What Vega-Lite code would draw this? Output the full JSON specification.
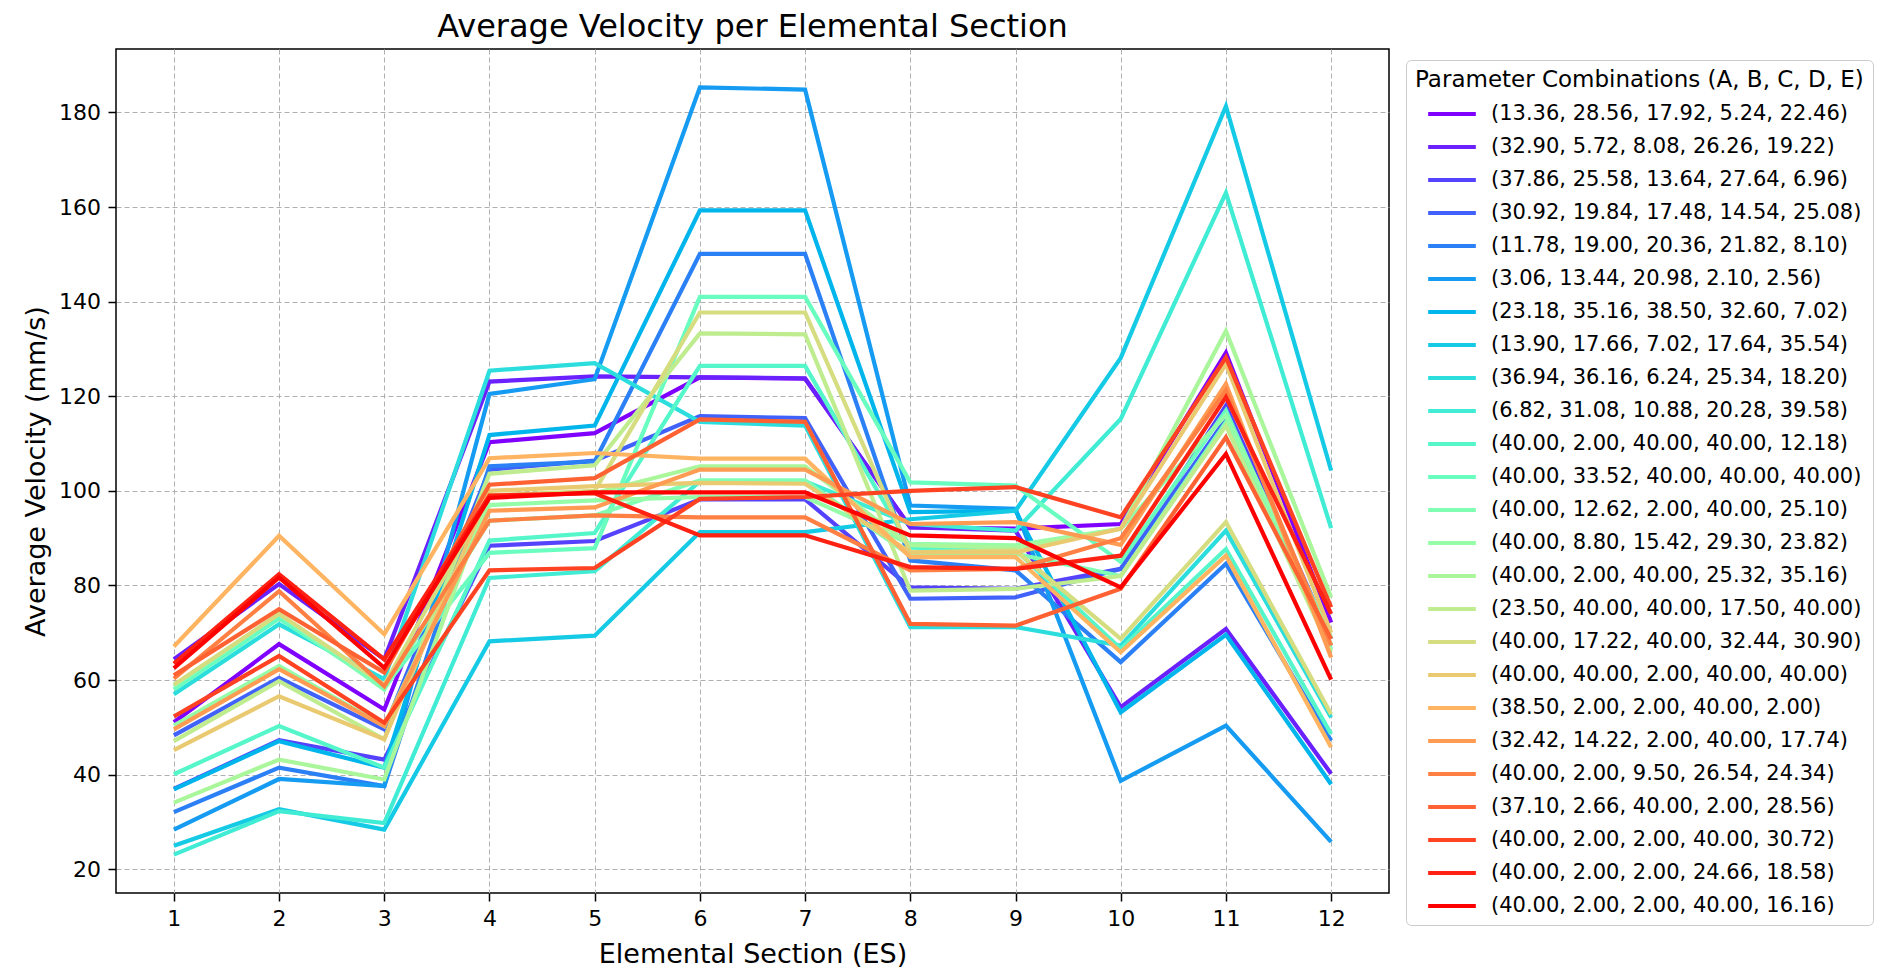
{
"$schema": "https://vega.github.io/schema/vega-lite/v6.json",
"width": 1273, "height": 844,
"autosize": {"type": "none"},
"padding": {"left": 116, "top": 49, "right": 494, "bottom": 76},
"background": "white",
"config": {
  "font": "DejaVu Sans",
  "view": {"stroke": "black", "strokeWidth": 1.5},
  "axis": {"domain": false, "tickColor": "black", "tickSize": 8, "tickWidth": 1.5, "labelFontSize": 22, "labelColor": "black", "labelPadding": 7.5, "titleFontSize": 27, "titleFontWeight": "normal", "titleColor": "black", "gridColor": "#b0b0b0", "gridDash": [5, 3], "gridWidth": 1}
},
"title": {"text": "Average Velocity per Elemental Section", "fontSize": 32, "fontWeight": "normal", "color": "black", "anchor": "middle", "baseline": "top", "offset": 5.5},
"datasets": {
"combos": [
{"k":0,"c":"(13.36, 28.56, 17.92, 5.24, 22.46)"},
{"k":1,"c":"(32.90, 5.72, 8.08, 26.26, 19.22)"},
{"k":2,"c":"(37.86, 25.58, 13.64, 27.64, 6.96)"},
{"k":3,"c":"(30.92, 19.84, 17.48, 14.54, 25.08)"},
{"k":4,"c":"(11.78, 19.00, 20.36, 21.82, 8.10)"},
{"k":5,"c":"(3.06, 13.44, 20.98, 2.10, 2.56)"},
{"k":6,"c":"(23.18, 35.16, 38.50, 32.60, 7.02)"},
{"k":7,"c":"(13.90, 17.66, 7.02, 17.64, 35.54)"},
{"k":8,"c":"(36.94, 36.16, 6.24, 25.34, 18.20)"},
{"k":9,"c":"(6.82, 31.08, 10.88, 20.28, 39.58)"},
{"k":10,"c":"(40.00, 2.00, 40.00, 40.00, 12.18)"},
{"k":11,"c":"(40.00, 33.52, 40.00, 40.00, 40.00)"},
{"k":12,"c":"(40.00, 12.62, 2.00, 40.00, 25.10)"},
{"k":13,"c":"(40.00, 8.80, 15.42, 29.30, 23.82)"},
{"k":14,"c":"(40.00, 2.00, 40.00, 25.32, 35.16)"},
{"k":15,"c":"(23.50, 40.00, 40.00, 17.50, 40.00)"},
{"k":16,"c":"(40.00, 17.22, 40.00, 32.44, 30.90)"},
{"k":17,"c":"(40.00, 40.00, 2.00, 40.00, 40.00)"},
{"k":18,"c":"(38.50, 2.00, 2.00, 40.00, 2.00)"},
{"k":19,"c":"(32.42, 14.22, 2.00, 40.00, 17.74)"},
{"k":20,"c":"(40.00, 2.00, 9.50, 26.54, 24.34)"},
{"k":21,"c":"(37.10, 2.66, 40.00, 2.00, 28.56)"},
{"k":22,"c":"(40.00, 2.00, 2.00, 40.00, 30.72)"},
{"k":23,"c":"(40.00, 2.00, 2.00, 24.66, 18.58)"},
{"k":24,"c":"(40.00, 2.00, 2.00, 40.00, 16.16)"}
],
"vel": [
{"k":0,"x":1,"y":51.1},{"k":0,"x":2,"y":67.6},{"k":0,"x":3,"y":53.8},{"k":0,"x":4,"y":110.3},{"k":0,"x":5,"y":112.2},{"k":0,"x":6,"y":124},{"k":0,"x":7,"y":123.7},{"k":0,"x":8,"y":92.3},{"k":0,"x":9,"y":92},{"k":0,"x":10,"y":93},{"k":0,"x":11,"y":129.2},{"k":0,"x":12,"y":72.2},
{"k":1,"x":1,"y":64.4},{"k":1,"x":2,"y":80.3},{"k":1,"x":3,"y":64.4},{"k":1,"x":4,"y":123.1},{"k":1,"x":5,"y":124.2},{"k":1,"x":6,"y":124},{"k":1,"x":7,"y":123.8},{"k":1,"x":8,"y":92.3},{"k":1,"x":9,"y":91.6},{"k":1,"x":10,"y":54.3},{"k":1,"x":11,"y":70.8},{"k":1,"x":12,"y":40.2},
{"k":2,"x":1,"y":37},{"k":2,"x":2,"y":47.3},{"k":2,"x":3,"y":43.2},{"k":2,"x":4,"y":88.4},{"k":2,"x":5,"y":89.4},{"k":2,"x":6,"y":98.2},{"k":2,"x":7,"y":98.2},{"k":2,"x":8,"y":79.6},{"k":2,"x":9,"y":79.3},{"k":2,"x":10,"y":83.5},{"k":2,"x":11,"y":118},{"k":2,"x":12,"y":68.7},
{"k":3,"x":1,"y":48.3},{"k":3,"x":2,"y":60.5},{"k":3,"x":3,"y":49.6},{"k":3,"x":4,"y":104.5},{"k":3,"x":5,"y":106.4},{"k":3,"x":6,"y":115.8},{"k":3,"x":7,"y":115.4},{"k":3,"x":8,"y":77.2},{"k":3,"x":9,"y":77.5},{"k":3,"x":10,"y":83.5},{"k":3,"x":11,"y":115.2},{"k":3,"x":12,"y":67.3},
{"k":4,"x":1,"y":32.1},{"k":4,"x":2,"y":41.5},{"k":4,"x":3,"y":37.6},{"k":4,"x":4,"y":105.2},{"k":4,"x":5,"y":106.2},{"k":4,"x":6,"y":150.1},{"k":4,"x":7,"y":150.1},{"k":4,"x":8,"y":85.3},{"k":4,"x":9,"y":83.2},{"k":4,"x":10,"y":63.8},{"k":4,"x":11,"y":84.6},{"k":4,"x":12,"y":47.2},
{"k":5,"x":1,"y":28.4},{"k":5,"x":2,"y":39.1},{"k":5,"x":3,"y":37.6},{"k":5,"x":4,"y":120.5},{"k":5,"x":5,"y":123.6},{"k":5,"x":6,"y":185.3},{"k":5,"x":7,"y":184.8},{"k":5,"x":8,"y":96.9},{"k":5,"x":9,"y":96.2},{"k":5,"x":10,"y":38.7},{"k":5,"x":11,"y":50.4},{"k":5,"x":12,"y":25.8},
{"k":6,"x":1,"y":36.9},{"k":6,"x":2,"y":47.1},{"k":6,"x":3,"y":41.5},{"k":6,"x":4,"y":111.8},{"k":6,"x":5,"y":113.8},{"k":6,"x":6,"y":159.3},{"k":6,"x":7,"y":159.3},{"k":6,"x":8,"y":95.5},{"k":6,"x":9,"y":95.8},{"k":6,"x":10,"y":53.2},{"k":6,"x":11,"y":69.6},{"k":6,"x":12,"y":38},
{"k":7,"x":1,"y":25},{"k":7,"x":2,"y":32.7},{"k":7,"x":3,"y":28.4},{"k":7,"x":4,"y":68.2},{"k":7,"x":5,"y":69.4},{"k":7,"x":6,"y":91.3},{"k":7,"x":7,"y":91.3},{"k":7,"x":8,"y":94},{"k":7,"x":9,"y":95.8},{"k":7,"x":10,"y":128.1},{"k":7,"x":11,"y":181.3},{"k":7,"x":12,"y":104.3},
{"k":8,"x":1,"y":57},{"k":8,"x":2,"y":71.8},{"k":8,"x":3,"y":60.2},{"k":8,"x":4,"y":125.4},{"k":8,"x":5,"y":127},{"k":8,"x":6,"y":114.6},{"k":8,"x":7,"y":113.8},{"k":8,"x":8,"y":71.2},{"k":8,"x":9,"y":71.2},{"k":8,"x":10,"y":67.3},{"k":8,"x":11,"y":91.6},{"k":8,"x":12,"y":52.1},
{"k":9,"x":1,"y":23.1},{"k":9,"x":2,"y":32.3},{"k":9,"x":3,"y":29.8},{"k":9,"x":4,"y":81.6},{"k":9,"x":5,"y":83},{"k":9,"x":6,"y":102},{"k":9,"x":7,"y":102},{"k":9,"x":8,"y":93},{"k":9,"x":9,"y":91.6},{"k":9,"x":10,"y":115.2},{"k":9,"x":11,"y":163},{"k":9,"x":12,"y":92.1},
{"k":10,"x":1,"y":40.1},{"k":10,"x":2,"y":50.3},{"k":10,"x":3,"y":41.5},{"k":10,"x":4,"y":89.5},{"k":10,"x":5,"y":91.1},{"k":10,"x":6,"y":126.4},{"k":10,"x":7,"y":126.4},{"k":10,"x":8,"y":88},{"k":10,"x":9,"y":87.5},{"k":10,"x":10,"y":66.6},{"k":10,"x":11,"y":87.7},{"k":10,"x":12,"y":48.6},
{"k":11,"x":1,"y":58},{"k":11,"x":2,"y":73},{"k":11,"x":3,"y":58.5},{"k":11,"x":4,"y":86.9},{"k":11,"x":5,"y":87.9},{"k":11,"x":6,"y":141},{"k":11,"x":7,"y":141},{"k":11,"x":8,"y":101.8},{"k":11,"x":9,"y":101.1},{"k":11,"x":10,"y":85},{"k":11,"x":11,"y":117},{"k":11,"x":12,"y":66.5},
{"k":12,"x":1,"y":58.7},{"k":12,"x":2,"y":73.9},{"k":12,"x":3,"y":58},{"k":12,"x":4,"y":93.7},{"k":12,"x":5,"y":94.8},{"k":12,"x":6,"y":102.2},{"k":12,"x":7,"y":102.2},{"k":12,"x":8,"y":86.3},{"k":12,"x":9,"y":86.7},{"k":12,"x":10,"y":82},{"k":12,"x":11,"y":114.5},{"k":12,"x":12,"y":67.5},
{"k":13,"x":1,"y":50.4},{"k":13,"x":2,"y":63},{"k":13,"x":3,"y":50.3},{"k":13,"x":4,"y":97},{"k":13,"x":5,"y":98},{"k":13,"x":6,"y":98.7},{"k":13,"x":7,"y":98.7},{"k":13,"x":8,"y":88.8},{"k":13,"x":9,"y":88.5},{"k":13,"x":10,"y":92},{"k":13,"x":11,"y":116},{"k":13,"x":12,"y":69},
{"k":14,"x":1,"y":34.1},{"k":14,"x":2,"y":43.2},{"k":14,"x":3,"y":39},{"k":14,"x":4,"y":99},{"k":14,"x":5,"y":99.5},{"k":14,"x":6,"y":105.2},{"k":14,"x":7,"y":105.2},{"k":14,"x":8,"y":88.5},{"k":14,"x":9,"y":88},{"k":14,"x":10,"y":92},{"k":14,"x":11,"y":133.8},{"k":14,"x":12,"y":77.5},
{"k":15,"x":1,"y":47.1},{"k":15,"x":2,"y":59.8},{"k":15,"x":3,"y":47.5},{"k":15,"x":4,"y":103.6},{"k":15,"x":5,"y":105.4},{"k":15,"x":6,"y":133.3},{"k":15,"x":7,"y":133.1},{"k":15,"x":8,"y":78.9},{"k":15,"x":9,"y":79.3},{"k":15,"x":10,"y":82},{"k":15,"x":11,"y":113.8},{"k":15,"x":12,"y":66},
{"k":16,"x":1,"y":59},{"k":16,"x":2,"y":74},{"k":16,"x":3,"y":59},{"k":16,"x":4,"y":99},{"k":16,"x":5,"y":100},{"k":16,"x":6,"y":137.7},{"k":16,"x":7,"y":137.7},{"k":16,"x":8,"y":87},{"k":16,"x":9,"y":87.4},{"k":16,"x":10,"y":68.7},{"k":16,"x":11,"y":93.4},{"k":16,"x":12,"y":52.8},
{"k":17,"x":1,"y":45.2},{"k":17,"x":2,"y":56.6},{"k":17,"x":3,"y":47.5},{"k":17,"x":4,"y":100},{"k":17,"x":5,"y":101},{"k":17,"x":6,"y":101.7},{"k":17,"x":7,"y":101.5},{"k":17,"x":8,"y":87},{"k":17,"x":9,"y":87},{"k":17,"x":10,"y":92},{"k":17,"x":11,"y":126.8},{"k":17,"x":12,"y":70},
{"k":18,"x":1,"y":67.1},{"k":18,"x":2,"y":90.5},{"k":18,"x":3,"y":69.7},{"k":18,"x":4,"y":106.9},{"k":18,"x":5,"y":108},{"k":18,"x":6,"y":106.8},{"k":18,"x":7,"y":106.8},{"k":18,"x":8,"y":86},{"k":18,"x":9,"y":86},{"k":18,"x":10,"y":65.9},{"k":18,"x":11,"y":86.3},{"k":18,"x":12,"y":45.8},
{"k":19,"x":1,"y":49.6},{"k":19,"x":2,"y":62.3},{"k":19,"x":3,"y":50.3},{"k":19,"x":4,"y":95.8},{"k":19,"x":5,"y":96.5},{"k":19,"x":6,"y":104.5},{"k":19,"x":7,"y":104.5},{"k":19,"x":8,"y":93},{"k":19,"x":9,"y":93.4},{"k":19,"x":10,"y":88.6},{"k":19,"x":11,"y":122.6},{"k":19,"x":12,"y":64.8},
{"k":20,"x":1,"y":60.3},{"k":20,"x":2,"y":78.8},{"k":20,"x":3,"y":58.7},{"k":20,"x":4,"y":93.7},{"k":20,"x":5,"y":94.8},{"k":20,"x":6,"y":94.4},{"k":20,"x":7,"y":94.4},{"k":20,"x":8,"y":83.2},{"k":20,"x":9,"y":83.5},{"k":20,"x":10,"y":90},{"k":20,"x":11,"y":121.2},{"k":20,"x":12,"y":67.3},
{"k":21,"x":1,"y":61},{"k":21,"x":2,"y":75},{"k":21,"x":3,"y":61.6},{"k":21,"x":4,"y":101.3},{"k":21,"x":5,"y":102.7},{"k":21,"x":6,"y":115.1},{"k":21,"x":7,"y":114.6},{"k":21,"x":8,"y":71.9},{"k":21,"x":9,"y":71.5},{"k":21,"x":10,"y":79.3},{"k":21,"x":11,"y":111.3},{"k":21,"x":12,"y":68.7},
{"k":22,"x":1,"y":52.3},{"k":22,"x":2,"y":65.1},{"k":22,"x":3,"y":51},{"k":22,"x":4,"y":83.2},{"k":22,"x":5,"y":83.7},{"k":22,"x":6,"y":98.3},{"k":22,"x":7,"y":98.7},{"k":22,"x":8,"y":100},{"k":22,"x":9,"y":100.8},{"k":22,"x":10,"y":94.4},{"k":22,"x":11,"y":128.2},{"k":22,"x":12,"y":75.4},
{"k":23,"x":1,"y":63.5},{"k":23,"x":2,"y":82.4},{"k":23,"x":3,"y":64.4},{"k":23,"x":4,"y":99},{"k":23,"x":5,"y":99.5},{"k":23,"x":6,"y":90.6},{"k":23,"x":7,"y":90.6},{"k":23,"x":8,"y":83.9},{"k":23,"x":9,"y":83.5},{"k":23,"x":10,"y":86.3},{"k":23,"x":11,"y":119.8},{"k":23,"x":12,"y":74},
{"k":24,"x":1,"y":62.5},{"k":24,"x":2,"y":81.7},{"k":24,"x":3,"y":62.6},{"k":24,"x":4,"y":98.5},{"k":24,"x":5,"y":99.7},{"k":24,"x":6,"y":99.7},{"k":24,"x":7,"y":99.7},{"k":24,"x":8,"y":90.6},{"k":24,"x":9,"y":90},{"k":24,"x":10,"y":79.6},{"k":24,"x":11,"y":107.8},{"k":24,"x":12,"y":60.1}
]
},
"data": {"name": "vel"},
"transform": [{"lookup": "k", "from": {"data": {"name": "combos"}, "key": "k", "fields": ["c"]}}],
"mark": {"type": "line", "strokeWidth": 4.2},
"encoding": {
  "x": {"field": "x", "type": "quantitative", "scale": {"domain": [0.45, 12.55], "nice": false, "zero": false},
        "axis": {"values": [1,2,3,4,5,6,7,8,9,10,11,12], "format": "d", "title": "Elemental Section (ES)", "titlePadding": 12}},
  "y": {"field": "y", "type": "quantitative", "scale": {"domain": [15.0, 193.4], "nice": false, "zero": false},
        "axis": {"values": [20,40,60,80,100,120,140,160,180], "format": "d", "title": "Average Velocity (mm/s)", "titlePadding": 8}},
  "color": {"field": "c", "type": "nominal",
    "scale": {
      "domain": ["(13.36, 28.56, 17.92, 5.24, 22.46)","(32.90, 5.72, 8.08, 26.26, 19.22)","(37.86, 25.58, 13.64, 27.64, 6.96)","(30.92, 19.84, 17.48, 14.54, 25.08)","(11.78, 19.00, 20.36, 21.82, 8.10)","(3.06, 13.44, 20.98, 2.10, 2.56)","(23.18, 35.16, 38.50, 32.60, 7.02)","(13.90, 17.66, 7.02, 17.64, 35.54)","(36.94, 36.16, 6.24, 25.34, 18.20)","(6.82, 31.08, 10.88, 20.28, 39.58)","(40.00, 2.00, 40.00, 40.00, 12.18)","(40.00, 33.52, 40.00, 40.00, 40.00)","(40.00, 12.62, 2.00, 40.00, 25.10)","(40.00, 8.80, 15.42, 29.30, 23.82)","(40.00, 2.00, 40.00, 25.32, 35.16)","(23.50, 40.00, 40.00, 17.50, 40.00)","(40.00, 17.22, 40.00, 32.44, 30.90)","(40.00, 40.00, 2.00, 40.00, 40.00)","(38.50, 2.00, 2.00, 40.00, 2.00)","(32.42, 14.22, 2.00, 40.00, 17.74)","(40.00, 2.00, 9.50, 26.54, 24.34)","(37.10, 2.66, 40.00, 2.00, 28.56)","(40.00, 2.00, 2.00, 40.00, 30.72)","(40.00, 2.00, 2.00, 24.66, 18.58)","(40.00, 2.00, 2.00, 40.00, 16.16)"],
      "range": ["#8000ff","#6a21fe","#5542fd","#4062fa","#2b80f6","#159bf1","#00b4ec","#15cae5","#2bdddd","#40ecd4","#55f6ca","#6afdc0","#80ffb4","#95fda8","#aaf69b","#bfec8e","#d5dd80","#eaca71","#ffb462","#ff9b52","#ff8042","#ff6232","#ff4221","#ff2111","#ff0000"]
    },
    "legend": {"orient": "none", "legendX": 1290, "legendY": 11, "title": "Parameter Combinations (A, B, C, D, E)",
      "titleFontSize": 23, "titleFontWeight": "normal", "titleColor": "black", "titlePadding": 9, "titleLimit": 700,
      "labelFontSize": 21, "labelColor": "black", "labelLimit": 700, "labelOffset": 26,
      "symbolType": "M-2.27,0H2.27", "symbolSize": 441, "symbolStrokeWidth": 4.2, "symbolOffset": 24,
      "rowPadding": 10, "padding": 9, "strokeColor": "#cccccc", "fillColor": "white", "cornerRadius": 5}
  }
}
}
